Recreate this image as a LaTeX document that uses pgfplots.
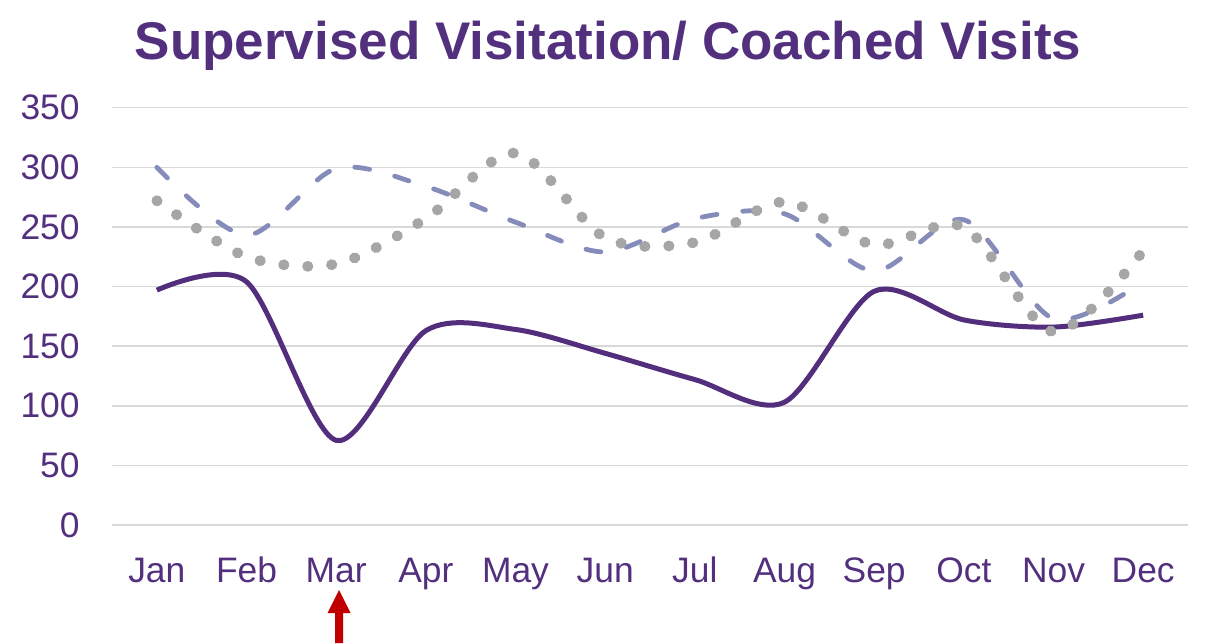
\documentclass[border=0pt]{standalone}
\usepackage{fontspec}
\setmainfont{Liberation Sans}
\usepackage{pgfplots}
\usepackage{pgfplotstable}
\pgfplotsset{compat=1.18}
\definecolor{ptext}{RGB}{82,48,125}
\definecolor{pline}{RGB}{82,46,124}
\definecolor{dashc}{RGB}{134,140,186}
\definecolor{dotc}{RGB}{166,166,166}
\definecolor{gridc}{RGB}{217,217,217}
\definecolor{arrowc}{RGB}{192,0,0}
\pgfplotstableread{
x y
0 197
1 204
2 71
3 163
4 164
5 144
6 122
7 103
8 196
9 172
10 166
11 176
}\solid
\pgfplotstableread{
x y
0 300
1 243
2 299
3 284
4 254
5 229
6 257
7 261
8 213
9 256
10 173
11 204
}\dashed
\pgfplotstableread{
x y
0 272
1 225
2 219
3 257
4 312
5 241
6 237
7 271
8 235
9 250
10 162
11 230
}\dotted
\begin{document}
\begin{tikzpicture}
\path[use as bounding box] (0,0) rectangle (602.5pt,321.5pt);
\begin{axis}[
  at={(56pt,59pt)}, anchor=south west,
  width=538pt, height=208.65pt, scale only axis,
  xmin=-0.5, xmax=11.5, ymin=0, ymax=350,
  axis line style={draw=none},
  ytick={0,50,...,350},
  xtick={0,...,11},
  xticklabels={Jan,Feb,Mar,Apr,May,Jun,Jul,Aug,Sep,Oct,Nov,Dec},
  major tick length=0pt,
  ymajorgrids, grid style={gridc, line width=0.75pt},
  tick label style={font=\fontsize{17.7}{21}\selectfont, text=ptext},
  yticklabel style={anchor=east, inner sep=0pt, xshift=-16pt},
  xticklabel style={anchor=base, inner sep=0pt, yshift=-28.5pt},
  /pgf/number format/assume math mode=true,
  clip=false,
]
\addplot[pline, line width=2.5pt, smooth, tension=0.5] table[x=x,y=y] {\solid};
\addplot[dashc, line width=2.4pt, line cap=round, dash pattern=on 7.5pt off 13pt, smooth, tension=0.5] table[x=x,y=y] {\dashed};
\addplot[dotc, line width=5.4pt, line cap=round, dash pattern=on 0.2pt off 11.8pt, smooth, tension=0.5] table[x=x,y=y] {\dotted};
\end{axis}
\node[anchor=base, font=\bfseries\fontsize{26.5}{30}\selectfont, text=ptext, inner sep=0pt] at (304pt,291.5pt) {Supervised Visitation/ Coached Visits};
\fill[arrowc] (169.5pt,26.5pt) -- (175.25pt,15pt) -- (171.5pt,15pt) -- (171.5pt,0pt) -- (167.5pt,0pt) -- (167.5pt,15pt) -- (163.75pt,15pt) -- cycle;
\end{tikzpicture}
\end{document}
